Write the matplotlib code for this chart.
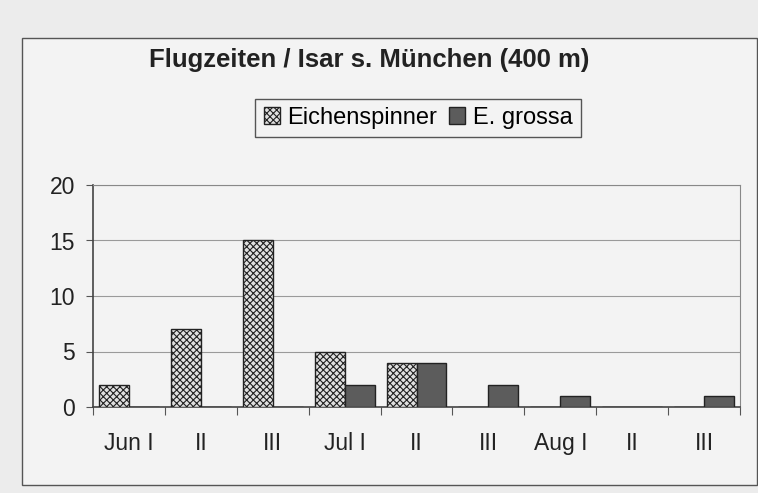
import numpy as np
import matplotlib
matplotlib.use('Agg')
import matplotlib.pyplot as plt
from matplotlib.patches import Rectangle

# data
categories = ['Jun I', 'II', 'III', 'Jul I', 'II', 'III', 'Aug I', 'II', 'III']
eichenspinner = [2, 7, 15, 5, 4, 0, 0, 0, 0]
e_grossa = [0, 0, 0, 2, 4, 2, 1, 0, 1]

plt.rcParams['font.family'] = ['Liberation Sans', 'DejaVu Sans']
plt.rcParams['hatch.color'] = '#5a5a5a'
plt.rcParams['hatch.linewidth'] = 0.8

fig = plt.figure(figsize=(7.58, 4.93), dpi=100)
fig.patch.set_facecolor('#ececec')

# outer chart frame
frame = Rectangle((22 / 758, 1 - 485 / 493), (757 - 22) / 758, (485 - 38) / 493,
                  transform=fig.transFigure, facecolor='#f3f3f3',
                  edgecolor='#555555', linewidth=1.0, zorder=-1)
fig.add_artist(frame)

ax = fig.add_axes([93 / 758, 1 - 407 / 493, (740 - 93) / 758, (407 - 185) / 493])
ax.set_facecolor('#f3f3f3')
ax.set_zorder(2)

x = np.arange(len(categories))
w = 30 / 72
ax.bar(x + 0.5 - w / 2, eichenspinner, width=w, facecolor='#e0e0e0', edgecolor='#222222',
       hatch='xxxxx', linewidth=1.0, zorder=3, label='Eichenspinner')
ax.bar(x + 0.5 + w / 2, e_grossa, width=w, facecolor='#5c5c5c', edgecolor='#222222',
       linewidth=1.0, zorder=3, label='E. grossa')

ax.set_xlim(0, len(categories))
ax.set_ylim(0, 20)
ax.set_yticks([0, 5, 10, 15, 20])
ax.yaxis.grid(True, color='#9a9a9a', linewidth=0.8)
ax.set_axisbelow(True)

# ticks at category boundaries, labels centred in the categories
ax.set_xticks(np.arange(len(categories) + 1))
ax.set_xticklabels([])
ax.set_xticks(x + 0.5, minor=True)
ax.set_xticklabels(categories, minor=True)
ax.tick_params(axis='x', which='major', length=6, direction='out', color='#555555')
ax.tick_params(axis='x', which='minor', length=0, pad=18, labelsize=16.5, labelcolor='#222222')
ax.tick_params(axis='y', length=5, color='#555555', labelsize=16.5, labelcolor='#222222', pad=8)

for side in ['top', 'right']:
    ax.spines[side].set_color('#888888')
for side in ['left', 'bottom']:
    ax.spines[side].set_color('#444444')
    ax.spines[side].set_linewidth(1.2)

fig.text(369 / 758, 1 - 60 / 493, 'Flugzeiten / Isar s. München (400 m)', ha='center', va='center',
         fontsize=18.5, fontweight='bold', color='#222222')

fig.legend(loc='center', bbox_to_anchor=(418 / 758, 1 - 118 / 493), ncol=2, fontsize=17,
           frameon=True, fancybox=False, edgecolor='#555555', facecolor='#f3f3f3',
           handlelength=0.7, handleheight=0.7, handletextpad=0.3, columnspacing=0.5,
           borderpad=0.35, framealpha=1)

fig.savefig('out.png', dpi=100, facecolor=fig.get_facecolor())
